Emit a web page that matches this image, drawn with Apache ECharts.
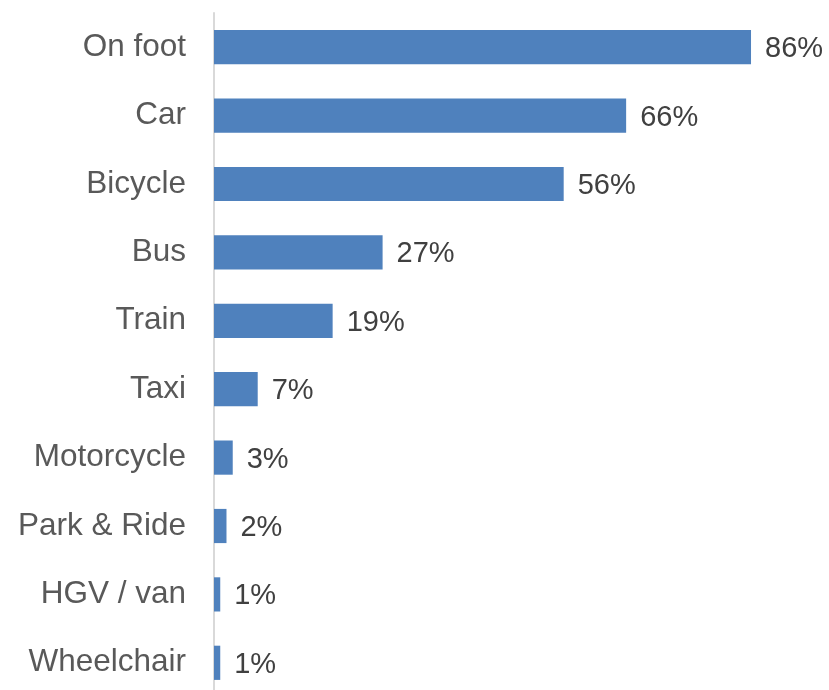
<!DOCTYPE html>
<html>
<head>
<meta charset="utf-8">
<script src="https://cdn.jsdelivr.net/npm/echarts@6/dist/echarts.min.js"></script>
<style>
  html, body { margin: 0; padding: 0; background: #ffffff; }
  #chart { width: 829px; height: 690px; }
</style>
</head>
<body>
<div id="chart"></div>
<script>
// Modes of transport, share of respondents (%)
const categories = ['On foot', 'Car', 'Bicycle', 'Bus', 'Train', 'Taxi', 'Motorcycle', 'Park & Ride', 'HGV / van', 'Wheelchair'];
const shares = [86, 66, 56, 27, 19, 7, 3, 2, 1, 1];

const chart = echarts.init(document.getElementById('chart'), null, { renderer: 'canvas' });

chart.setOption({
  animation: false,
  backgroundColor: '#ffffff',
  grid: { left: 214, top: 13, width: 562, height: 684, outerBoundsMode: 'none', containLabel: false },
  xAxis: {
    type: 'value',
    min: 0,
    max: 90,
    show: false
  },
  yAxis: {
    type: 'category',
    data: categories,
    inverse: true,
    axisLine: { show: true, lineStyle: { color: '#d9d9d9', width: 2 } },
    axisTick: { show: false },
    splitLine: { show: false },
    axisLabel: {
      color: '#595959',
      fontFamily: 'Liberation Sans, Arial, sans-serif',
      fontSize: 31.5,
      margin: 28,
      padding: [2, 0, 0, 0]
    }
  },
  series: [{
    type: 'bar',
    data: shares,
    barWidth: '50%',
    itemStyle: { color: '#4f81bd' },
    label: {
      show: true,
      position: 'right',
      distance: 14,
      offset: [0, 2],
      formatter: p => p.value + '%',
      color: '#404040',
      fontFamily: 'Liberation Sans, Arial, sans-serif',
      fontSize: 29
    }
  }]
});
</script>
</body>
</html>
